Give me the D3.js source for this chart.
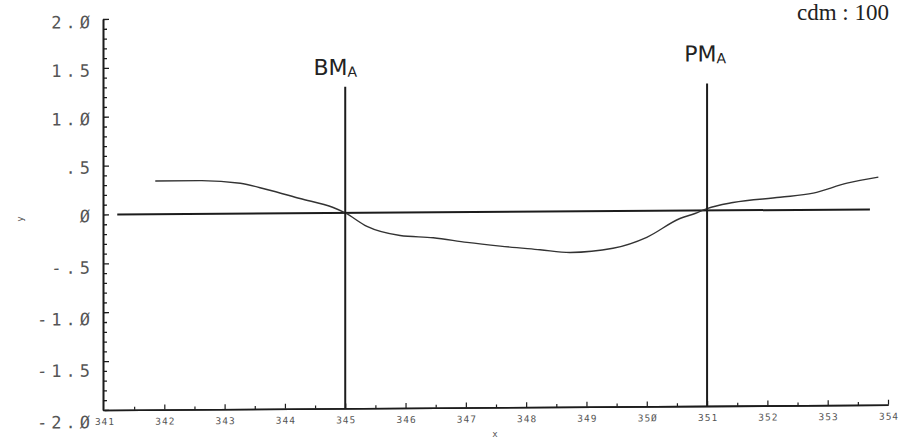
<!DOCTYPE html>
<html>
<head>
<meta charset="utf-8">
<script src="https://cdn.jsdelivr.net/npm/d3@7"></script>
<style>
  html, body { margin: 0; padding: 0; background: #fff; }
  svg { display: block; }
</style>
</head>
<body>
<svg id="chart" width="899" height="442"></svg>
<script>
// ---- data ----
const xTickValues = [341, 342, 343, 344, 345, 346, 347, 348, 349, 350, 351, 352, 353, 354];
const xTickLabels = ["341", "342", "343", "344", "345", "346", "347", "348", "349", "35Ø", "351", "352", "353", "354"];
const yTickValues = [2, 1.5, 1, 0.5, 0, -0.5, -1, -1.5, -2];
const yTickLabels = ["2.Ø", "1.5", "1.Ø", ".5", "Ø", "-.5", "-1.Ø", "-1.5", "-2.Ø"];

const curveX = [341.85, 342.59, 343.26, 343.70, 344.25, 344.80, 345.00, 345.36, 345.91, 346.46, 347.02, 347.57,
                348.23, 348.73, 349.44, 350.00, 350.55, 350.80, 351.00, 351.43, 352.21, 352.76, 353.32, 353.84];
const curveY = [0.34, 0.34, 0.31, 0.245, 0.15, 0.056, 0.0, -0.14, -0.235, -0.26, -0.31, -0.35,
                -0.39, -0.42, -0.38, -0.27, -0.08, -0.03, 0.02, 0.08, 0.13, 0.17, 0.27, 0.33];

const zeroLineX = [341.22, 353.70];
const zeroLineY = [0, 0];

const markerX = [345, 351];
const markerTop = [1.29, 1.30];
const markerNames = ["BM", "PM"];
const markerSub = ["A", "A"];

const scaleNote = "cdm : 100";
const xTitle = "x";
const yTitle = "y";

// ---- chart ----
const svg = d3.select("#chart");
svg.append("rect").attr("width", 899).attr("height", 442).attr("fill", "#fff");

const x = d3.scaleLinear().domain([341, 354]).range([104, 888]);
const y = d3.scaleLinear().domain([-2, 2]).range([410, 19]);
const yLab = d3.scaleLinear().domain([-2, 0, 2]).range([422, 216, 22]);

// scanned page is slightly skewed
const g = svg.append("g").attr("transform", "translate(104,0) skewY(-0.38) translate(-104,0)");

const ink = "#1c1c1c";

// y axis: minor ticks every 0.1, major at 0.5
const yMinor = d3.range(-20, 21).map(d => d / 10).filter(v => Math.abs(v * 2 - Math.round(v * 2)) > 1e-6);
const yAxisMinor = g.append("g").attr("transform", `translate(${x(341) - 1},0)`)
  .call(d3.axisLeft(y).tickValues(yMinor).tickSize(-4).tickSizeOuter(0).tickFormat(""));
const yAxisMajor = g.append("g").attr("transform", `translate(${x(341) - 1},0)`)
  .call(d3.axisLeft(y).tickValues(yTickValues).tickSize(-6).tickSizeOuter(0).tickFormat(""));
[yAxisMinor, yAxisMajor].forEach(a => {
  a.select(".domain").attr("stroke", ink).attr("stroke-width", 1.6);
  a.selectAll(".tick line").attr("stroke", ink).attr("stroke-width", 1.3);
});

// x axis: ticks at integers and halves, pointing up
const xMinor = d3.range(341.5, 354, 1);
const xAxisMinor = g.append("g").attr("transform", `translate(0,${y(-2)})`)
  .call(d3.axisBottom(x).tickValues(xMinor).tickSize(-3).tickSizeOuter(0).tickFormat(""));
const xAxisMajor = g.append("g").attr("transform", `translate(0,${y(-2)})`)
  .call(d3.axisBottom(x).tickValues(xTickValues.slice(1)).tickSize(-5).tickSizeOuter(0).tickFormat(""));
[xAxisMinor, xAxisMajor].forEach(a => {
  a.select(".domain").attr("stroke", ink).attr("stroke-width", 1.6);
  a.selectAll(".tick line").attr("stroke", ink).attr("stroke-width", 1.2);
});

// y tick labels
g.append("g").selectAll("text").data(yTickValues).join("text")
  .attr("x", 94)
  .attr("y", (d) => yLab(d))
  .attr("dy", "0.36em")
  .attr("text-anchor", "end")
  .attr("font-family", "DejaVu Sans Mono, monospace")
  .attr("font-size", 17)
  .attr("letter-spacing", "4px")
  .attr("fill", "#555")
  .text((d, i) => yTickLabels[i]);

// x tick labels
g.append("g").selectAll("text").data(xTickValues).join("text")
  .attr("x", d => x(d) + 1)
  .attr("y", 425)
  .attr("text-anchor", "middle")
  .attr("font-family", "DejaVu Sans Mono, monospace")
  .attr("font-size", 9.5)
  .attr("letter-spacing", "1px")
  .attr("fill", "#555")
  .text((d, i) => xTickLabels[i]);

// axis titles
svg.append("text").attr("x", 495).attr("y", 437).attr("text-anchor", "middle")
  .attr("font-family", "DejaVu Sans Mono, monospace").attr("font-size", 9).attr("fill", "#555").text(xTitle);
svg.append("text").attr("transform", "translate(23,219) rotate(-90)").attr("text-anchor", "middle")
  .attr("font-family", "DejaVu Sans Mono, monospace").attr("font-size", 9).attr("fill", "#555").text(yTitle);

// zero line
const zeroPts = zeroLineX.map((v, i) => [v, zeroLineY[i]]);
g.append("path").datum(zeroPts)
  .attr("d", d3.line().x(d => x(d[0])).y(d => y(d[1])))
  .attr("fill", "none").attr("stroke", ink).attr("stroke-width", 2);

// curve
const pts = curveX.map((v, i) => [v, curveY[i]]);
g.append("path").datum(pts)
  .attr("d", d3.line().x(d => x(d[0])).y(d => y(d[1])).curve(d3.curveMonotoneX))
  .attr("fill", "none").attr("stroke", "#333").attr("stroke-width", 1.4);

// marker verticals
g.append("g").selectAll("line").data(markerX).join("line")
  .attr("x1", d => x(d)).attr("x2", d => x(d))
  .attr("y1", (d, i) => y(markerTop[i])).attr("y2", y(-2))
  .attr("stroke", ink).attr("stroke-width", 2);

// marker labels
const labelOffsets = [[-10, -12], [-2, -22]];
const ml = g.append("g").selectAll("text").data(markerX).join("text")
  .attr("x", (d, i) => x(d) + labelOffsets[i][0])
  .attr("y", (d, i) => y(markerTop[i]) + labelOffsets[i][1])
  .attr("text-anchor", "middle")
  .attr("font-family", "DejaVu Sans, sans-serif")
  .attr("font-size", 22)
  .attr("font-weight", "normal")
  .attr("fill", "#222");
ml.append("tspan").text((d, i) => markerNames[i]);
ml.append("tspan").attr("font-size", 14).attr("dy", 2).text((d, i) => markerSub[i]);

// scale note
svg.append("text").attr("x", 797).attr("y", 20)
  .attr("font-family", "'Liberation Serif', 'Times New Roman', serif")
  .attr("font-size", 23).attr("fill", "#222").text(scaleNote);
</script>
</body>
</html>
